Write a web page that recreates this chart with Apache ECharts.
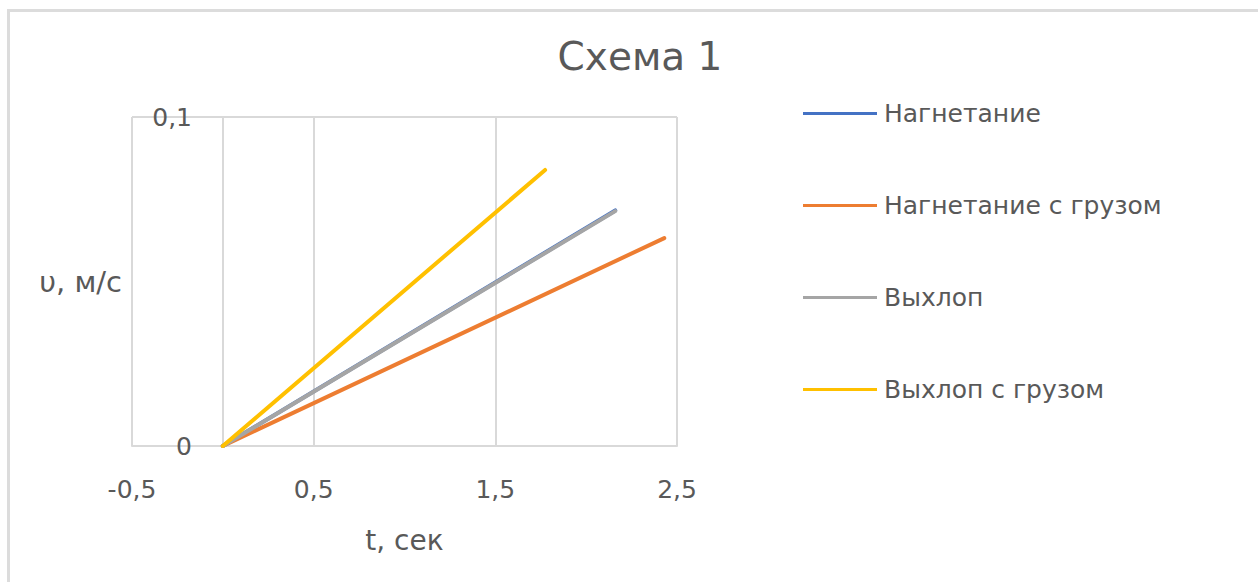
<!DOCTYPE html>
<html>
<head>
<meta charset="utf-8">
<script src="https://cdn.jsdelivr.net/npm/echarts@6/dist/echarts.min.js"></script>
<style>
  html, body { margin: 0; padding: 0; background: #ffffff; }
  #chart { width: 1258px; height: 582px; }
</style>
</head>
<body>
<div id="chart"></div>
<script>
// Series names, in drawing order
const seriesNames = ['Нагнетание', 'Нагнетание с грузом', 'Выхлоп', 'Выхлоп с грузом'];
const seriesColors = ['#4472C4', '#ED7D31', '#A5A5A5', '#FFC000'];

// Each series: [t, υ] points, t in seconds, υ in m/s
const nagnetanie = [[0, 0], [2.16, 0.0716]];
const nagnetanieGruz = [[0, 0], [2.43, 0.0632]];
const vyhlop = [[0, 0], [2.16, 0.0714]];
const vyhlopGruz = [[0, 0], [1.774, 0.0839]];
const seriesData = [nagnetanie, nagnetanieGruz, vyhlop, vyhlopGruz];

// Tick positions on the time axis
const xTicks = [-0.5, 0.5, 1.5, 2.5];

const titleText = 'Схема 1';
const xName = 't, сек';
const yName = 'υ, м/с';

const FONT = '"DejaVu Sans", "Noto Sans", sans-serif';
const TEXT = '#595959';
const GRID = '#d9d9d9';

const fmt = v => String(Math.round(v * 1000) / 1000).replace('.', ',');

const chart = echarts.init(document.getElementById('chart'), null, { renderer: 'svg' });

chart.setOption({
  backgroundColor: '#ffffff',
  animation: false,
  textStyle: { fontFamily: FONT },
  title: {
    text: titleText,
    left: 635,
    top: 32,
    textAlign: 'center',
    textStyle: { fontFamily: FONT, fontSize: 39, fontWeight: 'normal', color: TEXT }
  },
  graphic: [{
    type: 'rect',
    silent: true,
    shape: { x: 8.5, y: 10.5, width: 1300, height: 620 },
    style: { fill: 'none', stroke: '#dcdcdc', lineWidth: 3 }
  }],
  legend: {
    orient: 'vertical',
    left: 803,
    top: 101,
    padding: 0,
    itemWidth: 74,
    itemHeight: 14,
    itemGap: 67,
    icon: 'path://M0,6 L74,6 L74,9 L0,9 Z',
    textStyle: { fontFamily: FONT, fontSize: 25, lineHeight: 24, color: TEXT, padding: [0, 0, 0, 2] },
    data: seriesNames
  },
  grid: { left: 132, top: 117, width: 545, height: 329, containLabel: false, outerBoundsMode: 'none' },
  xAxis: {
    type: 'value',
    min: -0.5,
    max: 2.5,
    name: xName,
    nameLocation: 'middle',
    nameGap: 80,
    nameTextStyle: { fontFamily: FONT, fontSize: 28, color: TEXT },
    axisLine: { onZero: false, lineStyle: { color: GRID, width: 2 } },
    axisTick: { show: false, customValues: xTicks },
    axisLabel: { customValues: xTicks, formatter: fmt, margin: 31, fontFamily: FONT, fontSize: 25, color: TEXT },
    splitLine: { show: true, lineStyle: { color: GRID, width: 2 } }
  },
  yAxis: {
    type: 'value',
    min: 0,
    max: 0.1,
    interval: 0.1,
    name: yName,
    nameLocation: 'middle',
    nameRotate: 0,
    nameGap: 10,
    nameTextStyle: { fontFamily: FONT, fontSize: 29, color: TEXT, padding: [28, 0, 0, 0] },
    axisLine: { show: true, onZero: true, lineStyle: { color: GRID, width: 2 } },
    axisTick: { show: false },
    // labels sit just left of the t = 0 axis line
    axisLabel: { formatter: fmt, margin: -60, fontFamily: FONT, fontSize: 25, color: TEXT },
    splitLine: { show: true, lineStyle: { color: GRID, width: 2 } }
  },
  series: seriesNames.map((name, i) => ({
    name: name,
    type: 'line',
    data: seriesData[i],
    symbol: 'none',
    color: seriesColors[i],
    lineStyle: { color: seriesColors[i], width: 4, cap: 'round' },
    z: 2 + i
  }))
});
</script>
</body>
</html>
